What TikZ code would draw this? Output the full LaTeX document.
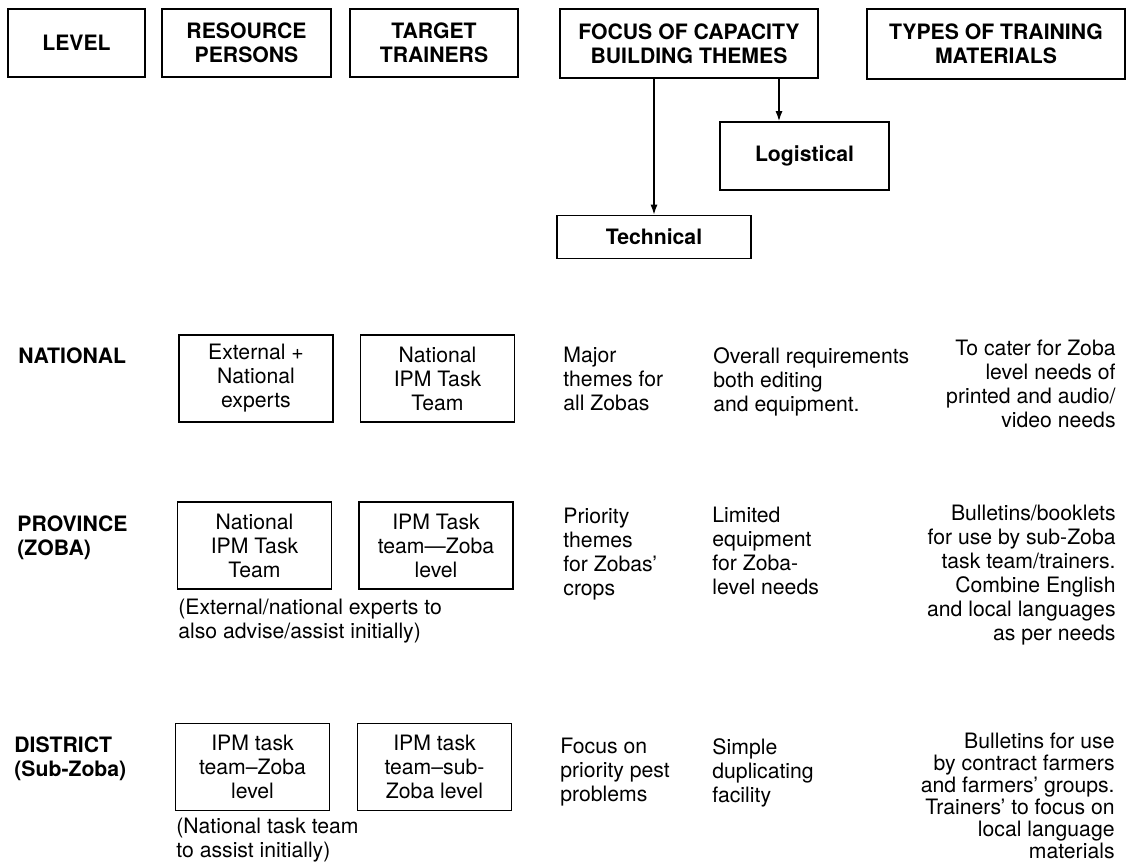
\documentclass[tikz,border=0pt]{standalone}
\usepackage{fontspec}
\setmainfont{TeX Gyre Heros}
\usetikzlibrary{arrows.meta,positioning}
\newcommand\cellfont{\fontsize{10.6}{12}\selectfont}
\tikzset{
  headbox/.style = {draw, line width=0.8pt, align=center, inner sep=0pt, font=\cellfont\bfseries},
  rowbox/.style = {draw, line width=0.6pt, align=center, inner sep=0pt, font=\cellfont,
  minimum width=77pt, minimum height=43.5pt},
  leftcell/.style = {anchor=north west, align=left, inner sep=0pt, font=\cellfont},
  rightcell/.style = {anchor=north east, align=right, inner sep=0pt, font=\cellfont},
  levelcell/.style = {leftcell, font=\cellfont\bfseries}
}

\begin{document}
\begin{tikzpicture}[x=0.5pt, y=-0.5pt, >={Latex[length=5pt,width=3.5pt]},
        	link/.style={->, line width=0.7pt}]
    \useasboundingbox (0,0) rectangle (1132,863);
    % column heads
    \node [headbox, minimum width=68.5pt, minimum height=34pt] (level) at (76.5,43) {LEVEL};
    \node [headbox, minimum width=84.5pt, minimum height=34pt] (resource) at (246.5,43) {RESOURCE\\PERSONS};
    \node [headbox, minimum width=84pt, minimum height=34pt] (target) at (434,43) {TARGET\\TRAINERS};
    \node [headbox, minimum width=129pt, minimum height=34.5pt] (focus) at (689,43.5) {FOCUS OF CAPACITY\\BUILDING THEMES};
    \node [headbox, minimum width=129pt, minimum height=35pt] (types) at (996,44) {TYPES OF TRAINING\\MATERIALS};
    \node [headbox, minimum width=84.5pt, minimum height=34pt] (logistic) at (804.5,156) {Logistical};
    \node [headbox, minimum width=97pt, minimum height=21.5pt] (technic) at (654,237) {Technical};
    \draw [link] (focus.south -| technic.north) -- (technic.north);
    \draw [link] ([xshift=45pt]focus.south) -- ([xshift=45pt]focus.south |- logistic.north);
    % national
    \node [levelcell] (national) at (18,347) {NATIONAL};
    \node [rowbox] (natres) at (256,378.5) {External +\\National\\experts};
    \node [rowbox] (nattrain) at (437.5,378.5) {National\\IPM Task\\Team};
    \node [leftcell] (nattech) at (563,347) {Major\\themes for\\all Zobas};
    \node [leftcell] (natlog) at (713,347) {Overall requirements\\both editing\\and equipment.};
    \node [rightcell] (natmat) at (1116,340) {To cater for Zoba\\level needs of\\printed and audio/\\video needs};
    % province
    \node [levelcell] (province) at (17,515) {PROVINCE\\(ZOBA)};
    \node [rowbox] (provres) at (254.5,545.5) {National\\IPM Task\\Team};
    \node [rowbox] (provtrain) at (436,545.5) {IPM Task\\team—Zoba\\level};
    \node [leftcell] (provnote) at (178,599) {(External/national experts to\\also advise/assist initially)};
    \node [leftcell] (provtech) at (563,508) {Priority\\themes\\for Zobas'\\crops};
    \node [leftcell] (provlog) at (712,507) {Limited\\equipment\\for Zoba-\\level needs};
    \node [rightcell] (provmat) at (1116,505) {Bulletins/booklets\\for use by sub-Zoba\\task team/trainers.\\Combine English\\and local languages\\as per needs};
    % district
    \node [levelcell] (district) at (14,736) {DISTRICT\\(Sub-Zoba)};
    \node [rowbox] (distres) at (252.5,767) {IPM task\\team–Zoba\\level};
    \node [rowbox] (disttrain) at (434.5,767) {IPM task\\team–sub-\\Zoba level};
    \node [leftcell] (distnote) at (176,818) {(National task team\\to assist initially)};
    \node [leftcell] (disttech) at (560,738) {Focus on\\priority pest\\problems};
    \node [leftcell] (distlog) at (712,738) {Simple\\duplicating\\facility};
    \node [rightcell, font=\fontsize{10.6}{11}\selectfont] (distmat) at (1115,733) {Bulletins for use\\by contract farmers\\and farmers' groups.\\Trainers' to focus on\\local language\\materials};
\end{tikzpicture}
\end{document}
